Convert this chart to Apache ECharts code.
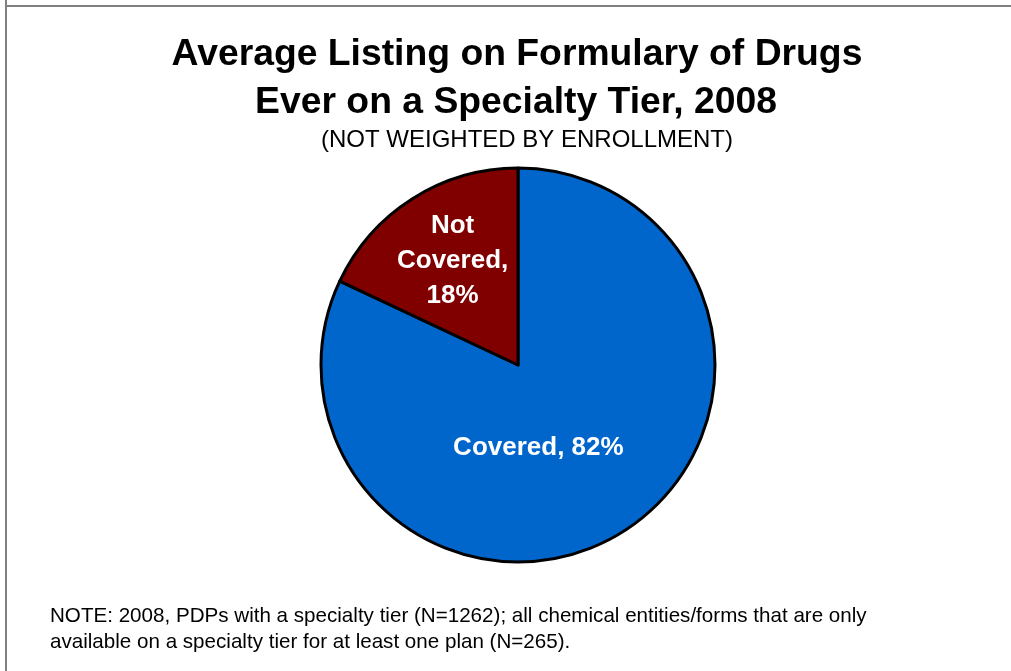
<!DOCTYPE html>
<html>
<head>
<meta charset="utf-8">
<script src="https://cdn.jsdelivr.net/npm/echarts@6/dist/echarts.min.js"></script>
<style>
  html, body { margin: 0; padding: 0; background: #fff; }
  #chart { width: 1011px; height: 671px; }
</style>
</head>
<body>
<div id="chart"></div>
<script>
// Share of specialty-tier drugs listed on formularies
const categories = ['Covered', 'Not Covered'];
const labelNames = ['Covered,', 'Not\nCovered,'];
const labelSep = [' ', '\n'];
const values = [82, 18];
const colors = ['#0066CC', '#800000'];
const labelShift = [[-34, -3], [-11, -18]];

const FONT = '"Liberation Sans", Arial, sans-serif';

const chart = echarts.init(document.getElementById('chart'), null, { renderer: 'canvas' });

chart.setOption({
  backgroundColor: '#ffffff',
  animation: false,
  graphic: [
    { type: 'line', shape: { x1: 6, y1: 0, x2: 6, y2: 671 }, style: { stroke: '#808080', lineWidth: 2 } },
    { type: 'line', shape: { x1: 6, y1: 6, x2: 1011, y2: 6 }, style: { stroke: '#808080', lineWidth: 2 } },
    {
      type: 'text',
      x: 517, y: 55,
      style: {
        text: 'Average Listing on Formulary of Drugs',
        font: 'bold 37.3px ' + FONT, fill: '#000',
        align: 'center', verticalAlign: 'middle'
      }
    },
    {
      type: 'text',
      x: 516, y: 103,
      style: {
        text: 'Ever on a Specialty Tier, 2008',
        font: 'bold 37.3px ' + FONT, fill: '#000',
        align: 'center', verticalAlign: 'middle'
      }
    },
    {
      type: 'text',
      x: 527, y: 140,
      style: {
        text: '(NOT WEIGHTED BY ENROLLMENT)',
        font: '24px ' + FONT, fill: '#000',
        align: 'center', verticalAlign: 'middle'
      }
    },
    {
      type: 'text',
      left: 50,
      top: 603,
      style: {
        text: 'NOTE: 2008, PDPs with a specialty tier (N=1262); all chemical entities/forms that are only\navailable on a specialty tier for at least one plan (N=265).',
        font: '20.6px ' + FONT,
        fill: '#000',
        lineHeight: 26
      }
    }
  ],
  series: [{
    type: 'pie',
    center: [518, 365],
    radius: [0, 197],
    startAngle: 90,
    clockwise: true,
    silent: true,
    itemStyle: { borderColor: '#000', borderWidth: 3 },
    label: {
      show: true,
      position: 'inside',
      color: '#fff',
      fontFamily: FONT,
      fontSize: 26,
      fontWeight: 'bold',
      lineHeight: 35,
      formatter: p => labelNames[p.dataIndex] + labelSep[p.dataIndex] + p.value + '%'
    },
    labelLayout: p => ({ dx: labelShift[p.dataIndex][0], dy: labelShift[p.dataIndex][1] }),
    data: categories.map((c, i) => ({ name: c, value: values[i], itemStyle: { color: colors[i] } }))
  }]
});
</script>
</body>
</html>
